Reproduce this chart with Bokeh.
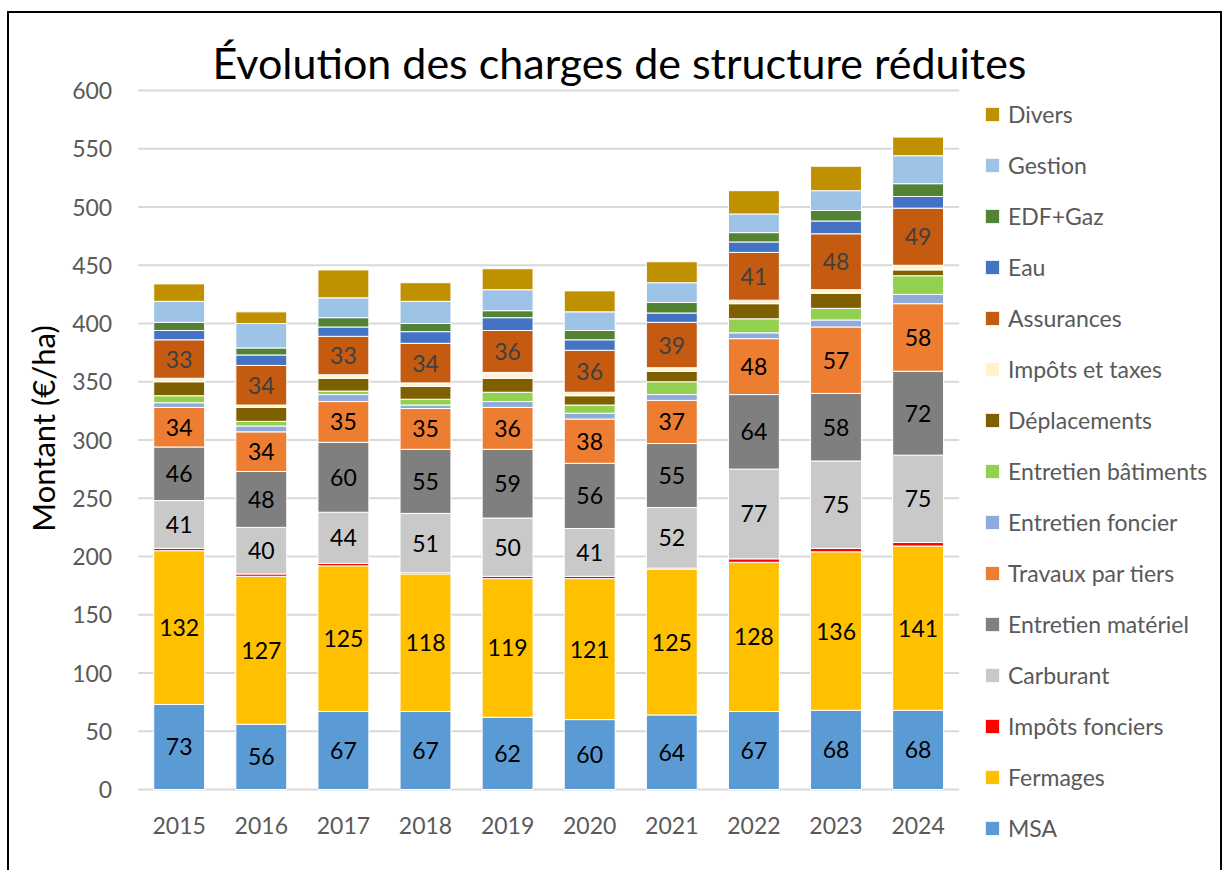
from math import pi
from bokeh.plotting import figure
from bokeh.models import ColumnDataSource, Legend, LegendItem, Range1d, Label
from bokeh.core.properties import value
from bokeh.embed import file_html
from bokeh.resources import INLINE

years = ["2015", "2016", "2017", "2018", "2019", "2020", "2021", "2022", "2023", "2024"]
y_ticks = [0, 50, 100, 150, 200, 250, 300, 350, 400, 450, 500, 550, 600]

msa = [73, 56, 67, 67, 62, 60, 64, 67, 68, 68]
fermages = [132, 127, 125, 118, 119, 121, 125, 128, 136, 141]
impots_fonciers = [2, 2, 2, 1, 2, 2, 1, 3, 3, 3]
carburant = [41, 40, 44, 51, 50, 41, 52, 77, 75, 75]
entretien_materiel = [46, 48, 60, 55, 59, 56, 55, 64, 58, 72]
travaux_tiers = [34, 34, 35, 35, 36, 38, 37, 48, 57, 58]
entretien_foncier = [4, 5, 6, 3, 5, 5, 5, 5, 6, 8]
entretien_batiments = [6, 4, 3, 5, 8, 7, 11, 12, 10, 16]
deplacements = [12, 12, 11, 11, 12, 8, 9, 13, 13, 5]
impots_taxes = [3, 2, 3, 3, 5, 3, 3, 3, 3, 4]
assurances = [33, 34, 33, 34, 36, 36, 39, 41, 48, 49]
eau = [8, 9, 8, 10, 11, 9, 8, 9, 11, 10]
edf_gaz = [7, 6, 8, 7, 6, 8, 9, 8, 9, 11]
gestion = [18, 21, 17, 19, 18, 16, 17, 16, 17, 24]
divers = [15, 10, 24, 16, 18, 18, 18, 20, 21, 16]

series_names = ["MSA", "Fermages", "Impôts fonciers", "Carburant", "Entretien matériel",
                "Travaux par tiers", "Entretien foncier", "Entretien bâtiments", "Déplacements",
                "Impôts et taxes", "Assurances", "Eau", "EDF+Gaz", "Gestion", "Divers"]
series_values = [msa, fermages, impots_fonciers, carburant, entretien_materiel, travaux_tiers,
                 entretien_foncier, entretien_batiments, deplacements, impots_taxes, assurances,
                 eau, edf_gaz, gestion, divers]
colors = ["#5b9bd5", "#ffc000", "#ff0000", "#c9c9c9", "#7f7f7f", "#ed7d31", "#8faadc",
          "#92d050", "#7f6000", "#fff2cc", "#c55a11", "#4472c4", "#548235", "#9dc3e6", "#bf9000"]
labeled = {"MSA": "#000000", "Fermages": "#000000", "Carburant": "#000000",
           "Entretien matériel": "#000000", "Travaux par tiers": "#000000", "Assurances": "#404040"}

FONT = "Lato"
TITLE = "Évolution des charges de structure réduites"
Y_LABEL = "Montant (€/ha)"

# layout: the whole canvas is the plotting frame, so the legend and texts are never clipped
W, H = 1215, 859
PXU = 82.1                 # pixels per category
PYU = 699 / 600            # pixels per €/ha
X0_PX, Y0_PX = 169.7, 776  # canvas pixel of category 0 centre / value 0
x_start = -X0_PX / PXU
x_end = (W - X0_PX) / PXU
y_start = -(H - Y0_PX) / PYU
y_end = Y0_PX / PYU

xs = list(range(len(years)))
keys = [f"s{i}" for i in range(len(series_names))]
data = {"x": xs}
for k, v in zip(keys, series_values):
    data[k] = v
src = ColumnDataSource(data)

p = figure(x_range=Range1d(x_start, x_end), y_range=Range1d(y_start, y_end),
           width=W, height=H, title=None, output_backend="svg", toolbar_location=None,
           x_axis_type=None, y_axis_type=None,
           min_border_left=0, min_border_right=0, min_border_top=0, min_border_bottom=0)
p.styles = {"border-top": "2px solid black", "border-left": "2px solid black",
            "border-right": "2px solid black", "margin-left": "7px", "margin-top": "11px"}
p.outline_line_color = None
p.grid.visible = False

# horizontal gridlines over the category span
p.segment(x0=[xs[0] - 0.5] * len(y_ticks), x1=[xs[-1] + 0.5] * len(y_ticks),
          y0=y_ticks, y1=y_ticks, line_color="#d9d9d9", line_width=2)

renderers = p.vbar_stack(keys, x="x", width=0.62, color=colors, source=src,
                         line_color="white", line_width=1)

# data labels
lx, ly, lt, lc = [], [], [], []
base = [0] * len(years)
for name, vals in zip(series_names, series_values):
    for i, v in enumerate(vals):
        if name in labeled:
            lx.append(xs[i])
            ly.append(base[i] + v / 2)
            lt.append(str(v))
            lc.append(labeled[name])
        base[i] += v
lsrc = ColumnDataSource(dict(x=lx, y=ly, t=lt, c=lc))
p.text(x="x", y="y", text="t", text_color="c", source=lsrc, text_align="center",
       text_baseline="middle", text_font=value(FONT), text_font_size="23px")

# y tick labels
ysrc = ColumnDataSource(dict(x=[xs[0] - 0.5 - 26 / PXU] * len(y_ticks), y=y_ticks,
                             t=[str(t) for t in y_ticks]))
p.text(x="x", y="y", text="t", source=ysrc, text_align="right", text_baseline="middle",
       text_font=value(FONT), text_font_size="23px", text_color="#595959")

# x tick labels
xsrc = ColumnDataSource(dict(x=xs, y=[-36 / PYU] * len(xs), t=years))
p.text(x="x", y="y", text="t", source=xsrc, text_align="center", text_baseline="middle",
       text_font=value(FONT), text_font_size="23px", text_color="#595959")

# y axis title
p.add_layout(Label(x=33, y=H - 415, x_units="screen", y_units="screen", text=Y_LABEL,
                   angle=pi / 2, text_align="center", text_baseline="middle",
                   text_font=FONT, text_font_size="31px", text_color="#000000"))

# chart title
p.add_layout(Label(x=610, y=H - 49, x_units="screen", y_units="screen", text=TITLE,
                   text_align="center", text_baseline="alphabetic",
                   text_font=FONT, text_font_size="43px", text_color="#000000"))

# legend (Divers on top)
items = [LegendItem(label=n, renderers=[r]) for n, r in zip(series_names, renderers)][::-1]
legend = Legend(items=items, location=(974, 30), padding=0, margin=0, ncols=1,
                border_line_color=None, background_fill_alpha=0,
                glyph_width=18, glyph_height=18, label_standoff=7,
                label_height=26, spacing=23,
                label_text_font=FONT, label_text_font_size="23px", label_text_color="#595959")
p.add_layout(legend)

open("out.html", "w").write(file_html(p, INLINE))
